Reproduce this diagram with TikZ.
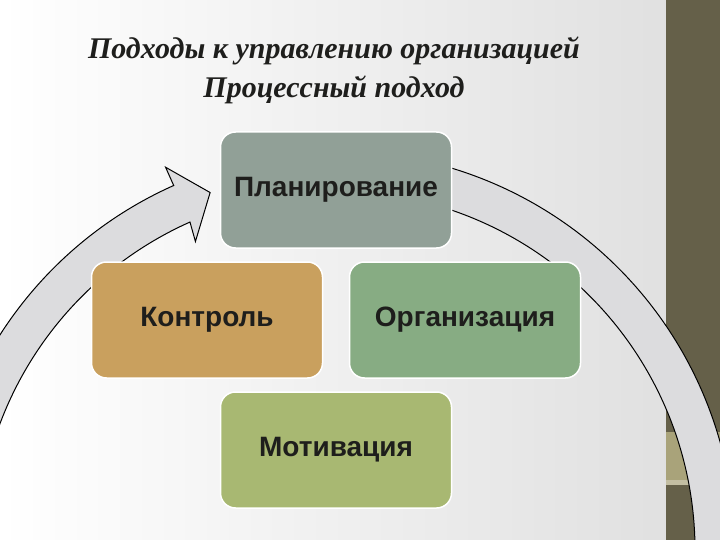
\documentclass[tikz,border=0pt]{standalone}
\usepackage{fontspec}
\setmainfont{Liberation Serif}
\newfontfamily\boxfont{Liberation Sans}
\usepackage{tikz}

\definecolor{bandgray}{RGB}{220,220,222}
\definecolor{stripbrown}{RGB}{101,96,73}
\definecolor{striptan}{RGB}{169,163,122}
\definecolor{planc}{RGB}{145,160,151}
\definecolor{kontrc}{RGB}{201,160,94}
\definecolor{orgc}{RGB}{135,172,131}
\definecolor{motivc}{RGB}{168,184,114}
\definecolor{textc}{RGB}{30,30,28}

\begin{document}
\begin{tikzpicture}[x=1pt,y=1pt]
	\tikzstyle{block}=[draw=white,line width=1.5pt,rounded corners=15pt,minimum width=231pt,minimum height=116pt,text=textc,font=\boxfont\bfseries\fontsize{28}{32}\selectfont];
	\tikzstyle{band}=[fill=bandgray,draw=black,line width=1pt,line join=miter];
	\useasboundingbox (0,0) rectangle (720,-540);
	\clip (0,0) rectangle (720,-540);
	% background and side strip
	\shade[left color=white,middle color=white!97!black,right color=black!12] (0,0) rectangle (666,-540);
	\fill[stripbrown] (666,0) rectangle (720,-540);
	\fill[striptan] (666,-432) rectangle (720,-485);
	\fill[striptan!70!white] (666,-480) rectangle (720,-485);
	% circular arrow
	\draw[band] ([shift={(336,-550)}]172:399) arc[start angle=172,end angle=114,radius=399]
		-- ([shift={(336,-550)}]114:419) -- ([shift={(336,-550)}]109.4:379)
		-- ([shift={(336,-550)}]114.5:339) -- ([shift={(336,-550)}]114:359)
		arc[start angle=114,end angle=172,radius=359] -- cycle;
	\draw[band] ([shift={(336,-550)}]100:399) arc[start angle=100,end angle=-12,radius=399]
		-- ([shift={(336,-550)}]-12:359) arc[start angle=-12,end angle=100,radius=359] -- cycle;
	% title
	\node[align=center,font=\bfseries\itshape\fontsize{30}{39}\selectfont,text=textc] (title) at (334,-70) {Подходы к управлению организацией\\Процессный подход};
	% blocks
	\node[block,fill=planc] (plan) at (336,-190) {Планирование};
	\node[block,fill=kontrc] (kontrol) at (207,-320) {Контроль};
	\node[block,fill=orgc] (org) at (465,-320) {Организация};
	\node[block,fill=motivc] (motiv) at (336,-450) {Мотивация};
\end{tikzpicture}
\end{document}
